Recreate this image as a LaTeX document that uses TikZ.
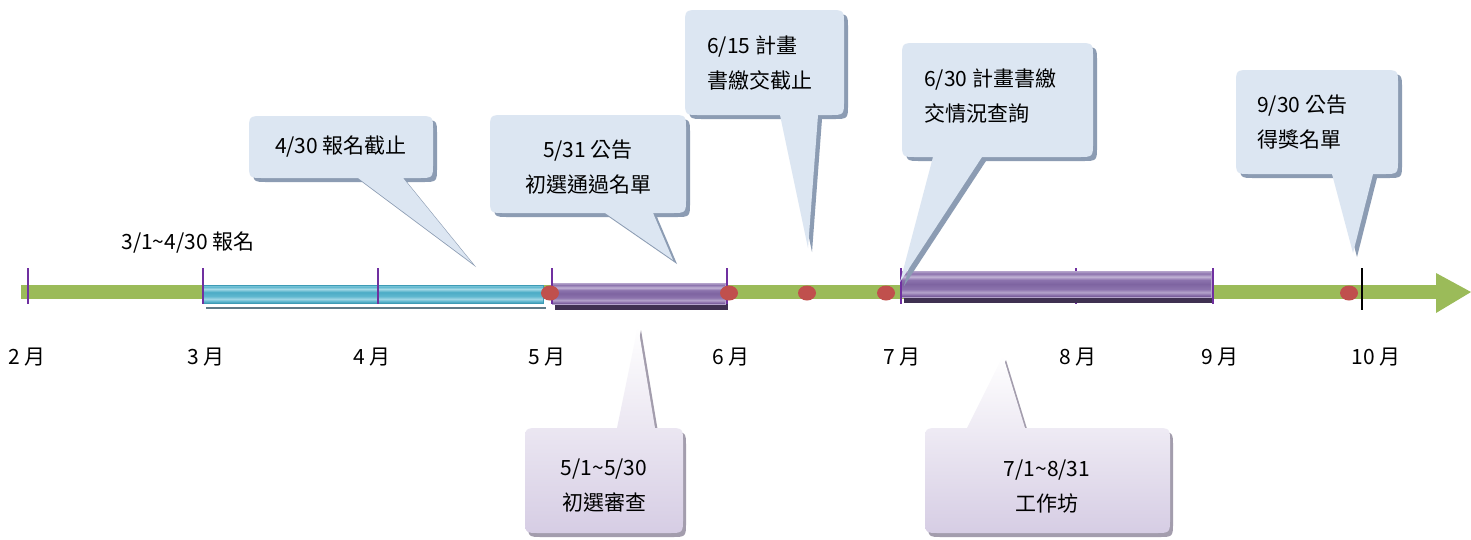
\documentclass[tikz,border=0pt]{standalone}
\usepackage{fontspec}
\setmainfont{Noto Sans CJK TC}
\definecolor{tlgreen}{HTML}{9BBB59}
\definecolor{tlred}{HTML}{C0504D}
\definecolor{tickcol}{HTML}{7030A0}
\definecolor{cfill}{HTML}{DCE6F2}
\definecolor{cshadow}{HTML}{8C9CB3}
\definecolor{lav}{HTML}{D6CDE4}
\definecolor{lshadow}{HTML}{A39DAD}
\definecolor{pdark}{HTML}{3F3151}
\definecolor{bshadow}{HTML}{5F7A86}
\definecolor{pa}{HTML}{6B4F8E}
\definecolor{pb}{HTML}{8A70AB}
\definecolor{pc}{HTML}{B4A3CB}
\definecolor{pd}{HTML}{8C73AD}
\definecolor{pe}{HTML}{7E64A1}
\definecolor{pf}{HTML}{C2B4D6}
\definecolor{pg}{HTML}{B7A8CE}
\definecolor{ba}{HTML}{3D9BB5}
\definecolor{bb}{HTML}{5FB7CF}
\definecolor{bc}{HTML}{9ED6E5}
\definecolor{bd}{HTML}{4BACC6}
\definecolor{be}{HTML}{A4D9E7}
\definecolor{bf}{HTML}{8CCFE0}
\pgfdeclareverticalshading{purplebar}{100bp}{color(0bp)=(pa); color(25bp)=(pa); color(29bp)=(pb); color(34bp)=(pc); color(40bp)=(pd); color(50bp)=(pe); color(58bp)=(pd); color(64bp)=(pf); color(70bp)=(pd); color(75bp)=(pg); color(100bp)=(pg)}
\pgfdeclareverticalshading{bluebar}{100bp}{color(0bp)=(ba); color(25bp)=(ba); color(30bp)=(bb); color(36bp)=(bc); color(44bp)=(bb); color(55bp)=(bd); color(64bp)=(be); color(70bp)=(bb); color(75bp)=(bf); color(100bp)=(bf)}
% callout with tail at the bottom: left, top, right, bottom, base-left x, base-right x, tip x, tip y
\newcommand\tlcalloutdown[8]{({#1+15},#2) -- ({#3-15},#2) .. controls (#3,#2) .. (#3,{#2+15}) -- (#3,{#4-15}) .. controls (#3,#4) .. ({#3-15},#4) -- (#6,#4) -- (#7,#8) -- (#5,#4) -- ({#1+15},#4) .. controls (#1,#4) .. (#1,{#4-15}) -- (#1,{#2+15}) .. controls (#1,#2) .. ({#1+15},#2) -- cycle}
% callout with tail at the top
\newcommand\tlcalloutup[8]{({#1+15},#2) -- (#5,#2) -- (#7,#8) -- (#6,#2) -- ({#3-15},#2) .. controls (#3,#2) .. (#3,{#2+15}) -- (#3,{#4-15}) .. controls (#3,#4) .. ({#3-15},#4) -- ({#1+15},#4) .. controls (#1,#4) .. (#1,{#4-15}) -- (#1,{#2+15}) .. controls (#1,#2) .. ({#1+15},#2) -- cycle}
\begin{document}
\begin{tikzpicture}[x=1pt,y=-1pt,
  txt/.style={inner sep=0pt, font=\fontsize{21}{35}\selectfont, text=black},
  monthlbl/.style={txt},
  tickline/.style={draw=tickcol, line width=1.5pt},
  dot/.style={fill=tlred},
  topshadow/.style={fill=cshadow, xshift=4pt, yshift=-4pt},
  topfill/.style={fill=cfill},
  botshadow/.style={fill=lshadow, xshift=3pt, yshift=-4pt},
  botfill/.style={top color=white, bottom color=lav}]
\useasboundingbox (0,0) rectangle (1471,539);
\fill[white] (0,0) rectangle (1471,539);

% main time line
\coordinate (lstart) at (21,292);
\coordinate (lend) at (1440,292);
\coordinate (tip) at (1471,292);
\draw[tlgreen, line width=14pt] (lstart) -- (lend);
\fill[tlgreen] (1436,273) -- (tip) -- (1436,313) -- cycle;

% tick hidden behind the workshop bar
\draw[tickline] (1076,268) -- (1076,304);

% registration bar (blue)
\draw[bshadow, line width=1.5pt] (206,308) -- (546,308);
\shade[shading=bluebar, draw=ba, line width=0.8pt] (203,285) rectangle (543,303);

% review bar (purple)
\fill[pdark] (555,290) rectangle (728,310);
\shade[shading=purplebar, draw=pc, line width=0.8pt] (552,283) rectangle (725,304);

% workshop bar (purple)
\fill[pdark] (904,277) rectangle (1214,303);
\shade[shading=purplebar, draw=pc, line width=0.8pt] (901,271) rectangle (1211,297);

% ticks
\foreach \x in {28,203,378,552,727,901,1213}
  \draw[tickline] (\x,268) -- (\x,304);
\draw[black, line width=2pt] (1362,268) -- (1362,310);

% red dots
\foreach \x/\n in {550/d1,729/d2,807/d3,886/d4,1349/d5}
  \fill[dot] (\x,293) ellipse (9pt and 7.5pt) coordinate (\n);

% month labels
\node[monthlbl] (m2) at (27,357) {2 月};
\node[monthlbl] (m3) at (206,357) {3 月};
\node[monthlbl] (m4) at (372,357) {4 月};
\node[monthlbl] (m5) at (547,357) {5 月};
\node[monthlbl] (m6) at (731,357) {6 月};
\node[monthlbl] (m7) at (902,357) {7 月};
\node[monthlbl] (m8) at (1078,357) {8 月};
\node[monthlbl] (m9) at (1220,357) {9 月};
\node[monthlbl] (m10) at (1376,357) {10 月};

\node[txt] (reg) at (188,243) {3/1\char`~4/30 報名};

% top callouts
\fill[topshadow] \tlcalloutdown{249}{116}{433}{178}{358}{403}{472}{263};
\fill[topfill] \tlcalloutdown{249}{116}{433}{178}{358}{403}{472}{263};
\node[txt] (c1) at (341,147) {4/30 報名截止};

\fill[topshadow] \tlcalloutdown{490}{115}{686}{213}{605}{653}{673}{260};
\fill[topfill] \tlcalloutdown{490}{115}{686}{213}{605}{653}{673}{260};
\node[txt, align=center] (c2) at (588,167) {5/31 公告\\初選通過名單};

\fill[topshadow] \tlcalloutdown{685}{10}{844}{115}{780}{818}{808}{248};
\fill[topfill] \tlcalloutdown{685}{10}{844}{115}{780}{818}{808}{248};
\node[txt, align=left, anchor=west] (c3) at (707,63) {6/15 計畫\\書繳交截止};

\fill[topshadow] \tlcalloutdown{902}{43}{1093}{157}{933}{982}{900}{282};
\fill[topfill] \tlcalloutdown{902}{43}{1093}{157}{933}{982}{900}{282};
\node[txt, align=left, anchor=west] (c4) at (924,96) {6/30 計畫書繳\\交情況查詢};

\fill[topshadow] \tlcalloutdown{1236}{70}{1398}{174}{1332}{1373}{1353}{253};
\fill[topfill] \tlcalloutdown{1236}{70}{1398}{174}{1332}{1373}{1353}{253};
\node[txt, align=left, anchor=west] (c5) at (1257,122) {9/30 公告\\得獎名單};

% bottom callouts
\fill[botshadow] \tlcalloutup{525}{428}{683}{533}{617}{655}{638}{326};
\shade[botfill] \tlcalloutup{525}{428}{683}{533}{617}{655}{638}{326};
\node[txt, align=center] (c6) at (604,486) {5/1\char`~5/30\\初選審查};

\fill[botshadow] \tlcalloutup{925}{428}{1170}{533}{967}{1025}{1003}{356};
\shade[botfill] \tlcalloutup{925}{428}{1170}{533}{967}{1025}{1003}{356};
\node[txt, align=center] (c7) at (1047,486) {7/1\char`~8/31\\工作坊};
\end{tikzpicture}
\end{document}
